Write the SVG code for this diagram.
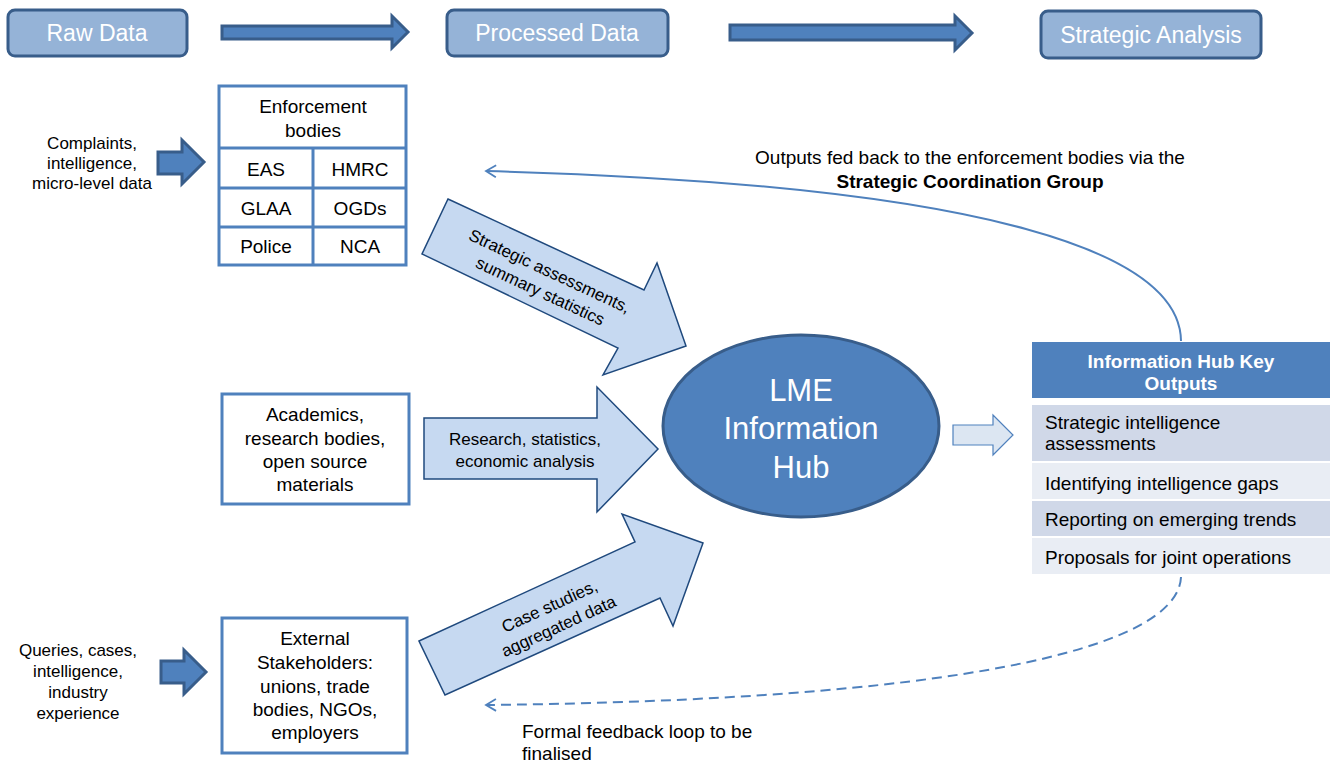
<svg xmlns="http://www.w3.org/2000/svg" width="1332" height="764" viewBox="0 0 1332 764">
<style>
text{font-family:"Liberation Sans",Arial,sans-serif;fill:#000}
.hdr{fill:#95b3d7;stroke:#385d8a;stroke-width:3}
.hdrt{fill:#fff;font-size:23px;text-anchor:middle}
.bigarrow{fill:#4f81bd;stroke:#385d8a;stroke-width:3}
.box{fill:#fff;stroke:#4f81bd;stroke-width:3}
.t17{font-size:17px;text-anchor:middle}
.t19{font-size:19px;text-anchor:middle}
.flow{fill:#c6d9f1;stroke:#1f497d;stroke-width:1.5}
.row{font-size:19px}
.curve{fill:none;stroke:#4f81bd;stroke-width:2}
</style>
<defs>
<marker id="chev" viewBox="0 0 14 14" refX="12" refY="7" markerWidth="14" markerHeight="14" markerUnits="userSpaceOnUse" orient="auto">
<path d="M2,1 L12,7 L2,13" fill="none" stroke="#4f81bd" stroke-width="1.8"/>
</marker>
</defs>

<g id="raw-data">
<rect class="hdr" x="8" y="10" width="179" height="46" rx="7"/>
<text class="hdrt" x="97" y="41">Raw Data</text>
</g>
<g id="processed-data">
<rect class="hdr" x="447" y="10" width="221" height="46" rx="7"/>
<text class="hdrt" x="557" y="41">Processed Data</text>
</g>
<g id="strategic-analysis">
<rect class="hdr" x="1041" y="11" width="220" height="47" rx="7"/>
<text class="hdrt" x="1151" y="43">Strategic Analysis</text>
</g>

<g id="enforcement-bodies">
<rect class="box" x="219" y="86" width="187" height="179"/>
<line x1="219" y1="148" x2="406" y2="148" stroke="#4f81bd" stroke-width="3"/>
<line x1="219" y1="188" x2="406" y2="188" stroke="#4f81bd" stroke-width="3"/>
<line x1="219" y1="227" x2="406" y2="227" stroke="#4f81bd" stroke-width="3"/>
<line x1="313" y1="148" x2="313" y2="265" stroke="#4f81bd" stroke-width="3"/>
<text class="t19" x="313" y="113">Enforcement</text>
<text class="t19" x="313" y="137">bodies</text>
<text class="t19" x="266" y="176">EAS</text>
<text class="t19" x="360" y="176">HMRC</text>
<text class="t19" x="266" y="215">GLAA</text>
<text class="t19" x="360" y="215">OGDs</text>
<text class="t19" x="266" y="253">Police</text>
<text class="t19" x="360" y="253">NCA</text>
</g>

<g id="complaints-label">
<text class="t17" x="92" y="149">Complaints,</text>
<text class="t17" x="92" y="169">intelligence,</text>
<text class="t17" x="92" y="189">micro-level data</text>
</g>

<g id="academics">
<rect class="box" x="222" y="394" width="187" height="110"/>
<text class="t19" x="315" y="421">Academics,</text>
<text class="t19" x="315" y="445">research bodies,</text>
<text class="t19" x="315" y="468">open source</text>
<text class="t19" x="315" y="491">materials</text>
</g>

<g id="external-stakeholders">
<rect class="box" x="222" y="618" width="185" height="135"/>
<text class="t19" x="315" y="645">External</text>
<text class="t19" x="315" y="669">Stakeholders:</text>
<text class="t19" x="315" y="693">unions, trade</text>
<text class="t19" x="315" y="716">bodies, NGOs,</text>
<text class="t19" x="315" y="739">employers</text>
</g>

<g id="queries-label">
<text class="t17" x="78" y="656">Queries, cases,</text>
<text class="t17" x="78" y="677">intelligence,</text>
<text class="t17" x="78" y="698">industry</text>
<text class="t17" x="78" y="719">experience</text>
</g>

<g id="lme-hub">
<ellipse cx="801" cy="426" rx="138" ry="91" fill="#4f81bd" stroke="#385d8a" stroke-width="3"/>
<text x="801" y="401" font-size="31" text-anchor="middle" style="fill:#fff">LME</text>
<text x="801" y="439" font-size="31" text-anchor="middle" style="fill:#fff">Information</text>
<text x="801" y="478" font-size="31" text-anchor="middle" style="fill:#fff">Hub</text>
</g>

<g id="key-outputs">
<rect x="1032" y="342" width="298" height="56" fill="#4f81bd"/>
<text x="1181" y="368" font-size="19" font-weight="bold" text-anchor="middle" style="fill:#fff">Information Hub Key</text>
<text x="1181" y="390" font-size="19" font-weight="bold" text-anchor="middle" style="fill:#fff">Outputs</text>
<rect x="1032" y="405" width="298" height="56" fill="#d0d8e8"/>
<rect x="1032" y="463" width="298" height="36" fill="#e9edf4"/>
<rect x="1032" y="501" width="298" height="35" fill="#d0d8e8"/>
<rect x="1032" y="538" width="298" height="36" fill="#e9edf4"/>
<text class="row" x="1045" y="428.5">Strategic intelligence</text>
<text class="row" x="1045" y="450">assessments</text>
<text class="row" x="1045" y="489.5">Identifying intelligence gaps</text>
<text class="row" x="1045" y="526">Reporting on emerging trends</text>
<text class="row" x="1045" y="563.5">Proposals for joint operations</text>
</g>

<g id="connectors">
<polygon class="bigarrow" points="222,26 392,26 392,16 408,32 392,48 392,39 222,39"/>
<polygon class="bigarrow" points="730,25 955,25 955,16 972,33 955,50 955,40 730,40"/>
<polygon class="bigarrow" points="158,152 182,152 182,140 204,162 182,184 182,174 158,174"/>
<polygon class="bigarrow" points="161,661 184,661 184,650 206,672 184,694 184,683 161,683"/>

<polygon class="flow" points="448,199 644,290 657,263 686,346 603,375 618,348 422,254"/>
<polygon class="flow" points="424,418 597,418 597,387 658,449 597,512 597,479 424,479"/>
<polygon class="flow" points="419,641 635,542 622,514 703,543 673,626 660,598 445,695"/>
<polygon points="953,425 993,425 993,415 1013,435 993,455 993,445 953,445" fill="#dce6f2" stroke="#4f81bd" stroke-width="1.2"/>

<g transform="translate(545,281) rotate(25)">
<text class="t17" x="0" y="-5">Strategic assessments,</text>
<text class="t17" x="0" y="17">summary statistics</text>
</g>
<text class="t17" x="525" y="445">Research, statistics,</text>
<text class="t17" x="525" y="467">economic analysis</text>
<g transform="translate(554,616) rotate(-24.6)">
<text class="t17" x="0" y="-5">Case studies,</text>
<text class="t17" x="0" y="17">aggregated data</text>
</g>

<path class="curve" d="M1181,341 C1180,255 1000,185 486,171" marker-end="url(#chev)"/>
<path class="curve" d="M1181,577 C1178,650 950,700 486,705" stroke-dasharray="10,6" marker-end="url(#chev)"/>

<text x="970" y="164" font-size="19" text-anchor="middle">Outputs fed back to the enforcement bodies via the</text>
<text x="970" y="188" font-size="19" font-weight="bold" text-anchor="middle">Strategic Coordination Group</text>
<text x="522" y="738" font-size="19">Formal feedback loop to be</text>
<text x="522" y="760" font-size="19">finalised</text>
</g>
</svg>
